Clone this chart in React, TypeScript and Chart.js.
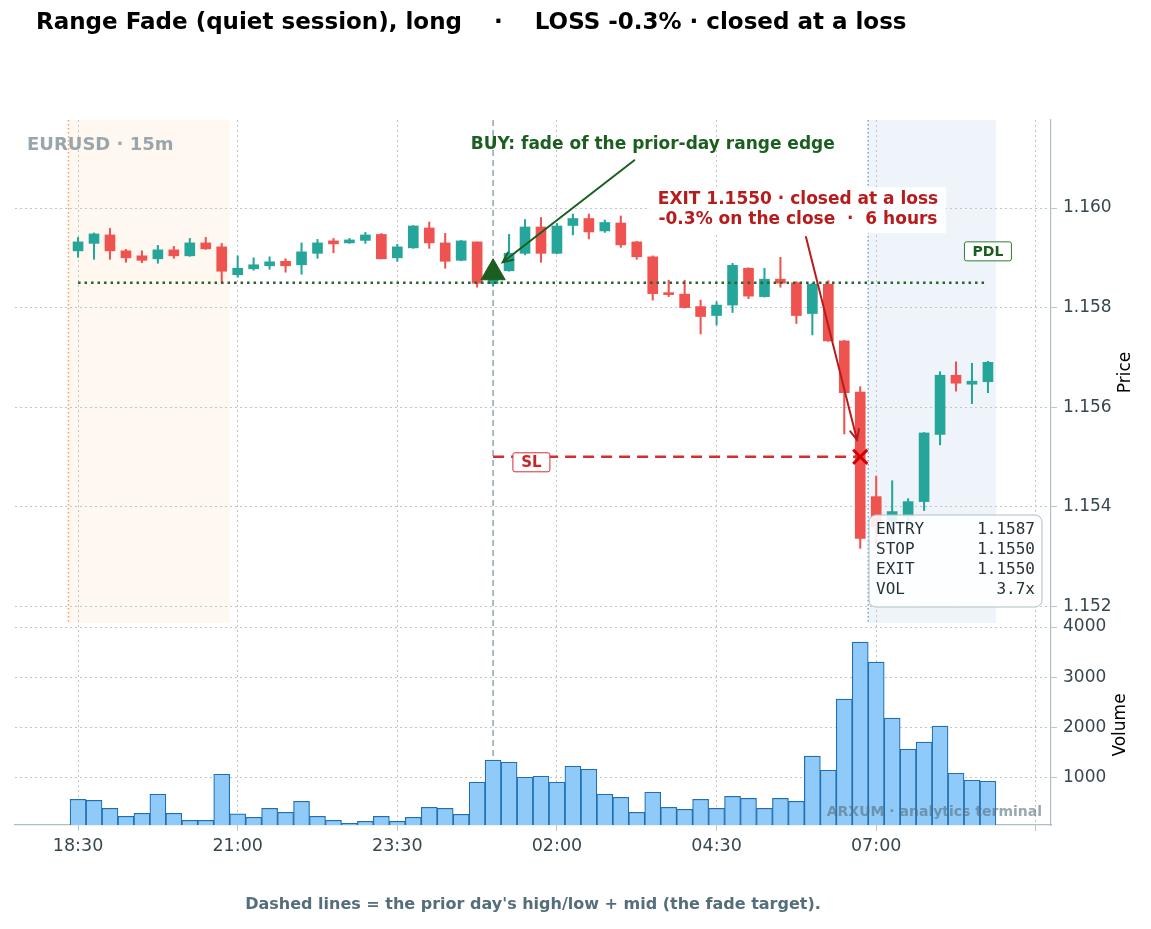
import { useEffect, useRef } from "react";
import { Chart, registerables } from "chart.js";

Chart.register(...registerables);

// 15-minute bars, 18:30 -> 08:45
const barTimes = [
  "18:30", "18:45", "19:00", "19:15", "19:30", "19:45", "20:00", "20:15", "20:30", "20:45",
  "21:00", "21:15", "21:30", "21:45", "22:00", "22:15", "22:30", "22:45", "23:00", "23:15",
  "23:30", "23:45", "00:00", "00:15", "00:30", "00:45", "01:00", "01:15", "01:30", "01:45",
  "02:00", "02:15", "02:30", "02:45", "03:00", "03:15", "03:30", "03:45", "04:00", "04:15",
  "04:30", "04:45", "05:00", "05:15", "05:30", "05:45", "06:00", "06:15", "06:30", "06:45",
  "07:00", "07:15", "07:30", "07:45", "08:00", "08:15", "08:30", "08:45",
];

const opens = [
  1.15914, 1.15929, 1.15946, 1.15914, 1.15904, 1.15898, 1.15916, 1.15904, 1.1593, 1.15922,
  1.15866, 1.15878, 1.15884, 1.15893, 1.15886, 1.15909, 1.15934, 1.1593, 1.15935, 1.15947,
  1.159, 1.1592, 1.1596, 1.1593, 1.15895, 1.15932, 1.15848, 1.15874, 1.15909, 1.15962,
  1.15909, 1.15965, 1.15979, 1.15954, 1.1597, 1.15932, 1.15902, 1.15829, 1.15827, 1.15802,
  1.15784, 1.15805, 1.15879, 1.15822, 1.15857, 1.1585, 1.15788, 1.15847, 1.15733, 1.1563,
  1.1542, 1.1537, 1.1538, 1.1541, 1.15545, 1.15664, 1.15646, 1.15651,
];
const highs = [
  1.15941, 1.1595, 1.15959, 1.15917, 1.15914, 1.15925, 1.15923, 1.15939, 1.15941, 1.15929,
  1.15904, 1.159, 1.15902, 1.15898, 1.1593, 1.15937, 1.15939, 1.15939, 1.15951, 1.15949,
  1.15927, 1.15965, 1.15972, 1.15949, 1.15935, 1.15932, 1.1587, 1.15947, 1.15977, 1.15981,
  1.15969, 1.15988, 1.15988, 1.15976, 1.15984, 1.15933, 1.15904, 1.15855, 1.15855, 1.15815,
  1.15812, 1.15889, 1.1588, 1.15879, 1.15901, 1.15852, 1.15849, 1.15854, 1.15734, 1.15641,
  1.15461, 1.15452, 1.15416, 1.15549, 1.15671, 1.15691, 1.15688, 1.15692,
];
const lows = [
  1.15901, 1.15897, 1.15897, 1.15891, 1.1589, 1.15889, 1.15899, 1.15903, 1.15917, 1.1585,
  1.15861, 1.15875, 1.15877, 1.15871, 1.15867, 1.15899, 1.1591, 1.15929, 1.15929, 1.15898,
  1.15893, 1.15919, 1.15919, 1.15879, 1.15894, 1.15841, 1.15843, 1.15873, 1.15906, 1.15891,
  1.15908, 1.15946, 1.15938, 1.15951, 1.15921, 1.15897, 1.15815, 1.15822, 1.15799, 1.15747,
  1.15765, 1.1579, 1.15818, 1.15821, 1.15841, 1.15768, 1.15745, 1.15732, 1.15546, 1.15316,
  1.1532, 1.1534, 1.1536, 1.15392, 1.15524, 1.15632, 1.15607, 1.15629,
];
const closes = [
  1.15932, 1.15948, 1.15914, 1.159, 1.15895, 1.15916, 1.15904, 1.1593, 1.15918, 1.15873,
  1.15879, 1.15886, 1.15892, 1.15884, 1.15912, 1.1593, 1.15928, 1.15936, 1.15946, 1.15898,
  1.15922, 1.15964, 1.1593, 1.15893, 1.15934, 1.15849, 1.15856, 1.15909, 1.15962, 1.15909,
  1.15964, 1.15979, 1.15952, 1.15971, 1.15926, 1.15902, 1.15828, 1.15826, 1.158, 1.15782,
  1.15805, 1.15885, 1.15823, 1.15857, 1.15849, 1.15784, 1.15847, 1.15733, 1.15629, 1.15336,
  1.1536, 1.1539, 1.1541, 1.15548, 1.15664, 1.15648, 1.15652, 1.1569,
];
const volumes = [
  560, 540, 380, 220, 280, 660, 280, 140, 140, 1060,
  270, 200, 380, 300, 520, 220, 140, 80, 120, 220,
  120, 200, 400, 380, 260, 900, 1340, 1300, 1000, 1020,
  900, 1220, 1160, 660, 600, 300, 700, 400, 360, 560,
  380, 620, 580, 380, 580, 520, 1420, 1140, 2560, 3700,
  3300, 2180, 1560, 1700, 2020, 1080, 940, 920,
];

const xTickBars = [0, 10, 20, 30, 40, 50, 60];
const xTickLabels = ["18:30", "21:00", "23:30", "02:00", "04:30", "07:00", ""];
const priceTicks = [1.152, 1.154, 1.156, 1.158, 1.16];
const volumeTicks = [1000, 2000, 3000, 4000];

const entryBar = 26;
const exitBar = 49;
const entryPrice = 1.1587;
const stopPrice = 1.155;
const exitPrice = 1.155;
const pdlPrice = 1.1585;
const asiaSpan = [-0.6, 9.5];
const londonSpan = [49.5, 57.5];
const infoRows = [
  ["ENTRY", "1.1587"],
  ["STOP", "1.1550"],
  ["EXIT", "1.1550"],
  ["VOL", "3.7x"],
];

const UP = "#26a69a";
const DOWN = "#ef5350";
const FONT = '"DejaVu Sans", sans-serif';

const candleColors = opens.map((o, i) => (closes[i] >= o ? UP : DOWN));

function openArrow(ctx: CanvasRenderingContext2D, x1: number, y1: number, x2: number, y2: number, color: string) {
  const ang = Math.atan2(y2 - y1, x2 - x1);
  const len = 11;
  const spread = 0.42;
  ctx.save();
  ctx.strokeStyle = color;
  ctx.lineWidth = 2;
  ctx.lineCap = "round";
  ctx.beginPath();
  ctx.moveTo(x1, y1);
  ctx.lineTo(x2, y2);
  ctx.moveTo(x2 - len * Math.cos(ang - spread), y2 - len * Math.sin(ang - spread));
  ctx.lineTo(x2, y2);
  ctx.lineTo(x2 - len * Math.cos(ang + spread), y2 - len * Math.sin(ang + spread));
  ctx.stroke();
  ctx.restore();
}

function labelBox(ctx: CanvasRenderingContext2D, text: string, cx: number, cy: number, w: number, h: number, color: string, border: string, font: string) {
  ctx.save();
  ctx.beginPath();
  ctx.roundRect(cx - w / 2, cy - h / 2, w, h, 2);
  ctx.fillStyle = "#ffffff";
  ctx.fill();
  ctx.strokeStyle = border;
  ctx.lineWidth = 1;
  ctx.stroke();
  ctx.fillStyle = color;
  ctx.font = font;
  ctx.textAlign = "center";
  ctx.textBaseline = "middle";
  ctx.fillText(text, cx, cy + 1);
  ctx.restore();
}

const overlay = {
  id: "overlay",
  beforeDraw(chart: any) {
    const { ctx, scales } = chart;
    const { x, yPrice } = scales;
    ctx.save();
    ctx.fillStyle = "#ffffff";
    ctx.fillRect(0, 0, chart.width, chart.height);
    const top = yPrice.top;
    const bot = yPrice.bottom - 2;
    ctx.fillStyle = "rgba(251,140,0,0.06)";
    const a0 = x.getPixelForValue(asiaSpan[0]);
    const a1 = x.getPixelForValue(asiaSpan[1]);
    ctx.fillRect(a0, top, a1 - a0, bot - top);
    ctx.fillStyle = "rgba(30,100,200,0.07)";
    const l0 = x.getPixelForValue(londonSpan[0]);
    const l1 = x.getPixelForValue(londonSpan[1]);
    ctx.fillRect(l0, top, l1 - l0, bot - top);
    ctx.restore();
  },
  beforeDatasetsDraw(chart: any) {
    const { ctx, scales, chartArea } = chart;
    const { x, yPrice } = scales;
    ctx.save();
    ctx.lineWidth = 1.5;
    ctx.setLineDash([1.5, 2.5]);
    ctx.strokeStyle = "#f0a060";
    const a0 = x.getPixelForValue(asiaSpan[0]);
    ctx.beginPath();
    ctx.moveTo(a0, yPrice.top);
    ctx.lineTo(a0, yPrice.bottom - 2);
    ctx.stroke();
    ctx.strokeStyle = "#7aa0d8";
    const l0 = x.getPixelForValue(londonSpan[0]);
    ctx.beginPath();
    ctx.moveTo(l0, yPrice.top);
    ctx.lineTo(l0, yPrice.bottom - 2);
    ctx.stroke();
    // entry time marker
    ctx.strokeStyle = "#90a4ae";
    ctx.setLineDash([6, 4]);
    const ex = x.getPixelForValue(entryBar);
    ctx.beginPath();
    ctx.moveTo(ex, chartArea.top);
    ctx.lineTo(ex, chartArea.bottom);
    ctx.stroke();
    ctx.restore();
  },
  afterDatasetsDraw(chart: any) {
    const { ctx, scales, chartArea } = chart;
    const { x, yPrice, yVol } = scales;
    const px = (b: number) => x.getPixelForValue(b);
    const py = (p: number) => yPrice.getPixelForValue(p);
    ctx.save();

    // title
    ctx.fillStyle = "#000000";
    ctx.font = `700 23px ${FONT}`;
    ctx.textAlign = "left";
    ctx.textBaseline = "middle";
    ctx.fillText("Range Fade (quiet session), long    ·    LOSS -0.3% · closed at a loss", 36, 23);

    // symbol tag
    ctx.fillStyle = "#9aa6ad";
    ctx.font = `700 18px ${FONT}`;
    ctx.fillText("EURUSD · 15m", chartArea.left + 12, chartArea.top + 25);

    // BUY annotation
    openArrow(ctx, px(34.85), py(1.16096), px(26.6), py(1.15891), "#1b5e20");
    ctx.fillStyle = "#1b5e20";
    ctx.font = `700 17px ${FONT}`;
    ctx.textAlign = "center";
    ctx.fillText("BUY: fade of the prior-day range edge", px(36), py(1.16127));

    // EXIT annotation
    openArrow(ctx, px(45.6), py(1.15942), px(48.8), py(1.15534), "#b71c1c");
    const ecx = px(45.1);
    ctx.fillStyle = "rgba(255,255,255,0.85)";
    ctx.fillRect(ecx - 148, py(1.16042), 296, 46);
    ctx.fillStyle = "#b71c1c";
    ctx.font = `700 17px ${FONT}`;
    ctx.fillText("EXIT 1.1550 · closed at a loss", ecx, py(1.16017));
    ctx.fillText("-0.3% on the close  ·  6 hours", ecx, py(1.15977));

    // level labels
    labelBox(ctx, "SL", px(28.4), py(1.15489), 37, 19, "#c62828", "#d32f2f", `700 15px ${FONT}`);
    labelBox(ctx, "PDL", px(57), py(1.15913), 47, 19, "#1b5e20", "#2e7d32", `700 14px ${FONT}`);

    // trade info box
    const bx1 = chartArea.right - 9;
    const bx0 = bx1 - 173;
    const by1 = yPrice.bottom - 18;
    const by0 = by1 - 92;
    ctx.beginPath();
    ctx.roundRect(bx0, by0, bx1 - bx0, by1 - by0, 7);
    ctx.fillStyle = "rgba(255,255,255,0.88)";
    ctx.fill();
    ctx.strokeStyle = "#b0bec5";
    ctx.lineWidth = 1;
    ctx.stroke();
    ctx.fillStyle = "#263238";
    ctx.font = '16px "DejaVu Sans Mono", monospace';
    infoRows.forEach(([k, v], i) => {
      const ry = by0 + 15 + i * 20;
      ctx.textAlign = "left";
      ctx.fillText(k, bx0 + 7, ry);
      ctx.textAlign = "right";
      ctx.fillText(v, bx1 - 7, ry);
    });

    // watermark
    ctx.fillStyle = "rgba(84,110,122,0.6)";
    ctx.font = `700 14px ${FONT}`;
    ctx.textAlign = "right";
    ctx.fillText("ARXUM · analytics terminal", chartArea.right - 9, chartArea.bottom - 13);

    // axis titles
    ctx.fillStyle = "#000000";
    ctx.font = `17px ${FONT}`;
    ctx.textAlign = "center";
    ctx.save();
    ctx.translate(1126, (yPrice.top + yPrice.bottom) / 2);
    ctx.rotate(-Math.PI / 2);
    ctx.fillText("Price", 0, 0);
    ctx.restore();
    ctx.save();
    ctx.translate(1121, (yVol.top + yVol.bottom) / 2);
    ctx.rotate(-Math.PI / 2);
    ctx.fillText("Volume", 0, 0);
    ctx.restore();

    // footer
    ctx.fillStyle = "#546e7a";
    ctx.font = `700 16px ${FONT}`;
    ctx.textAlign = "center";
    ctx.fillText("Dashed lines = the prior day's high/low + mid (the fade target).", 533, 905);

    ctx.restore();
  },
};

export default function App() {
  const canvasRef = useRef<HTMLCanvasElement | null>(null);

  useEffect(() => {
    const canvas = canvasRef.current;
    if (!canvas) return;
    Chart.defaults.font.family = FONT;

    const idx = barTimes.map((_, i) => i);
    const grid = { color: "#c4c4c4", lineWidth: 1, tickLength: 6, offset: false };
    const border = { color: "#b0bec5", width: 1.2, dash: [2, 3] };

    const chart = new Chart(canvas, {
      type: "bar",
      data: {
        datasets: [
          {
            type: "scatter",
            data: [{ x: entryBar, y: entryPrice }],
            yAxisID: "yPrice",
            pointStyle: "triangle",
            pointRadius: 14,
            backgroundColor: "#1b5e20",
            borderColor: "#1b5e20",
            borderWidth: 1,
            order: 0,
          },
          {
            type: "scatter",
            data: [{ x: exitBar, y: exitPrice }],
            yAxisID: "yPrice",
            pointStyle: "crossRot",
            pointRadius: 10,
            borderColor: "#d50000",
            borderWidth: 3,
            order: 0,
          },
          {
            type: "line",
            data: [
              { x: entryBar, y: stopPrice },
              { x: exitBar, y: stopPrice },
            ],
            yAxisID: "yPrice",
            borderColor: "#d32f2f",
            borderWidth: 2.5,
            borderDash: [11, 7],
            pointRadius: 0,
            order: 1,
          },
          {
            type: "line",
            data: [
              { x: 0, y: pdlPrice },
              { x: barTimes.length - 1, y: pdlPrice },
            ],
            yAxisID: "yPrice",
            borderColor: "#2e6130",
            borderWidth: 2.5,
            borderDash: [2.5, 4],
            pointRadius: 0,
            order: 3,
          },
          {
            type: "bar",
            data: idx.map((i) => ({ x: i, y: [opens[i], closes[i]] })),
            yAxisID: "yPrice",
            backgroundColor: candleColors,
            borderColor: candleColors,
            borderWidth: 0,
            borderSkipped: false,
            barThickness: 10,
            minBarLength: 2,
            order: 4,
          },
          {
            type: "bar",
            data: idx.map((i) => ({ x: i, y: [lows[i], highs[i]] })),
            yAxisID: "yPrice",
            backgroundColor: candleColors,
            borderWidth: 0,
            borderSkipped: false,
            barThickness: 1.4,
            order: 5,
          },
          {
            type: "bar",
            data: idx.map((i) => ({ x: i, y: volumes[i] })),
            yAxisID: "yVol",
            backgroundColor: "#90caf9",
            borderColor: "#1f6fb2",
            borderWidth: 1.2,
            borderSkipped: false,
            barThickness: 16,
            order: 6,
          },
        ] as any,
      },
      options: {
        animation: false,
        responsive: true,
        maintainAspectRatio: false,
        layout: { padding: { left: 15, top: 120, right: 0, bottom: 0 } },
        plugins: { legend: { display: false }, tooltip: { enabled: false } },
        scales: {
          x: {
            type: "linear",
            min: -3.95,
            max: 60.95,
            offset: false,
            stacked: true,
            afterBuildTicks: (s: any) => {
              s.ticks = xTickBars.map((v) => ({ value: v }));
            },
            afterFit: (s: any) => {
              s.height = 104;
            },
            ticks: {
              autoSkip: false,
              maxRotation: 0,
              padding: 5,
              color: "#37474f",
              font: { size: 17.5 },
              callback: (v: any) => {
                const k = xTickBars.indexOf(Number(v));
                return k >= 0 ? xTickLabels[k] : "";
              },
            },
            grid,
            border,
          },
          yPrice: {
            type: "linear",
            position: "right",
            stack: "panels",
            stackWeight: 505,
            stacked: false,
            min: 1.15162,
            max: 1.16177,
            afterBuildTicks: (s: any) => {
              s.ticks = priceTicks.map((v) => ({ value: v }));
            },
            afterFit: (s: any) => {
              s.width = 100;
            },
            ticks: {
              padding: 6,
              color: "#37474f",
              font: { size: 17 },
              callback: (v: any) => Number(v).toFixed(3),
            },
            grid,
            border,
          },
          yVol: {
            type: "linear",
            position: "right",
            stack: "panels",
            stackWeight: 200,
            stacked: false,
            min: 46,
            max: 4040,
            afterBuildTicks: (s: any) => {
              s.ticks = volumeTicks.map((v) => ({ value: v }));
            },
            afterFit: (s: any) => {
              s.width = 100;
            },
            ticks: {
              padding: 6,
              color: "#37474f",
              font: { size: 17 },
              callback: (v: any) => String(v),
            },
            grid,
            border,
          },
        },
      } as any,
      plugins: [overlay],
    });

    return () => chart.destroy();
  }, []);

  return (
    <div style={{ position: "absolute", left: 0, top: 0, width: 1151, height: 929, background: "#fff" }}>
      <canvas ref={canvasRef} />
    </div>
  );
}
